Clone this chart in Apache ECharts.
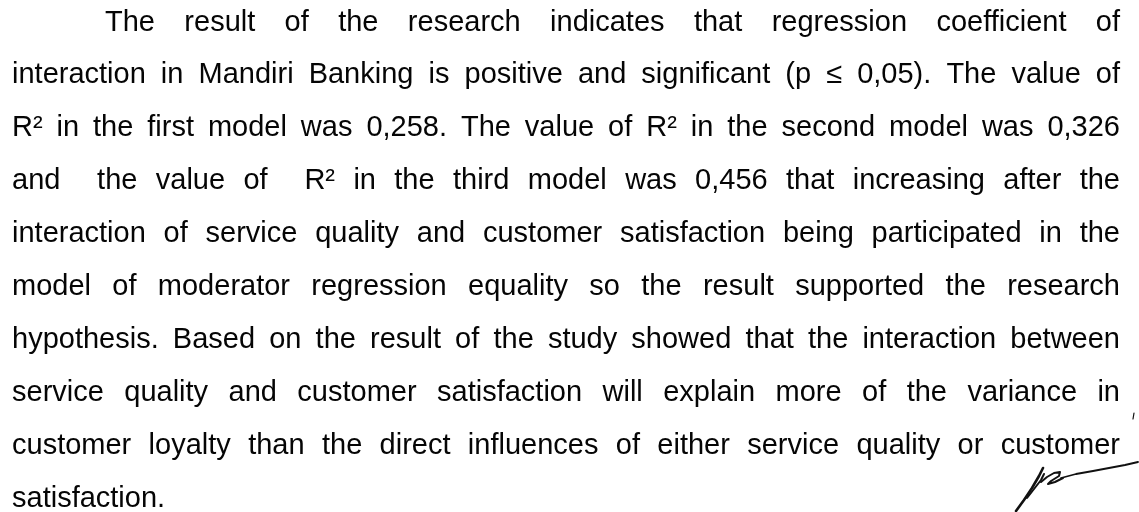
<!DOCTYPE html>
<html>
<head>
<meta charset="utf-8">
<script src="https://cdn.jsdelivr.net/npm/echarts@6/dist/echarts.min.js"></script>
<style>
html,body{margin:0;padding:0;background:#fff;}
#main{width:1139px;height:512px;}
</style>
</head>
<body>
<div id="main"></div>
<script>
// Paragraph lines (text content)
const paragraphLines = [
  "The result of the research indicates that regression coefficient of",
  "interaction in Mandiri Banking is positive and significant (p \u2264 0,05). The value of",
  "R\u00b2 in the first model was 0,258. The value of R\u00b2 in the second model was 0,326",
  "and  the value of  R\u00b2 in the third model was 0,456 that increasing after the",
  "interaction of service quality and customer satisfaction being participated in the",
  "model of moderator regression equality so the result supported the research",
  "hypothesis. Based on the result of the study showed that the interaction between",
  "service quality and customer satisfaction will explain more of the variance in",
  "customer loyalty than the direct influences of either service quality or customer",
  "satisfaction."
];

// Layout / style
const FONT_SIZE = 29;
const FONT_FAMILY = '"Liberation Sans", Arial, sans-serif';
const LEFT = 12, RIGHT = 1120, INDENT_X = 105;
const BASE0 = 33, LEAD = 52.9;
const TEXT_COLOR = '#050505';

const chart = echarts.init(document.getElementById('main'), null, {renderer: 'canvas'});

const ctx = document.createElement('canvas').getContext('2d');
ctx.font = FONT_SIZE + 'px ' + FONT_FAMILY;
const measure = s => ctx.measureText(s).width;

const elements = [];
paragraphLines.forEach((line, i) => {
  const x0 = i === 0 ? INDENT_X : LEFT;
  const baseline = BASE0 + i * LEAD;
  const yMid = baseline - FONT_SIZE * 0.36;
  const isLast = i === paragraphLines.length - 1;
  const tokens = line.split(' ');
  const gaps = tokens.length - 1;
  const wordsW = tokens.reduce((a, t) => a + measure(t), 0);
  const gapW = isLast || gaps === 0 ? measure(' ') : (RIGHT - x0 - wordsW) / gaps;
  let x = x0;
  tokens.forEach(t => {
    if (t.length) {
      elements.push({
        type: 'text', x: x, y: yMid, silent: true,
        style: {text: t, fill: TEXT_COLOR, font: FONT_SIZE + 'px ' + FONT_FAMILY,
                textAlign: 'left', textVerticalAlign: 'middle', verticalAlign: 'middle'}
      });
    }
    x += measure(t) + gapW;
  });
});

// Handwritten initials (decoration)
const ink = {stroke: '#111', fill: null, lineCap: 'round', lineJoin: 'round'};
elements.push(
  {type: 'polyline', silent: true, shape: {points: [[1016,511],[1024,500],[1032,488],[1039,476],[1043,468]]}, style: Object.assign({lineWidth: 2.6}, ink)},
  {type: 'polyline', silent: true, shape: {points: [[1027,498],[1034,489],[1041,480],[1044,474]]}, style: Object.assign({lineWidth: 2}, ink)},
  {type: 'polyline', silent: true, shape: {points: [[1041,482],[1047,477],[1054,473],[1060,472],[1059,476],[1051,481],[1048,484],[1055,482],[1063,478]]}, style: Object.assign({lineWidth: 2}, ink)},
  {type: 'polyline', silent: true, shape: {points: [[1061,478],[1076,474],[1093,471],[1109,468],[1125,465],[1138,462]]}, style: Object.assign({lineWidth: 1.8}, ink)},
  {type: 'polyline', silent: true, shape: {points: [[1134,413],[1133,419]]}, style: Object.assign({lineWidth: 1.2}, ink)}
);

chart.setOption({
  backgroundColor: '#ffffff',
  animation: false,
  graphic: {elements: elements}
});
</script>
</body>
</html>
